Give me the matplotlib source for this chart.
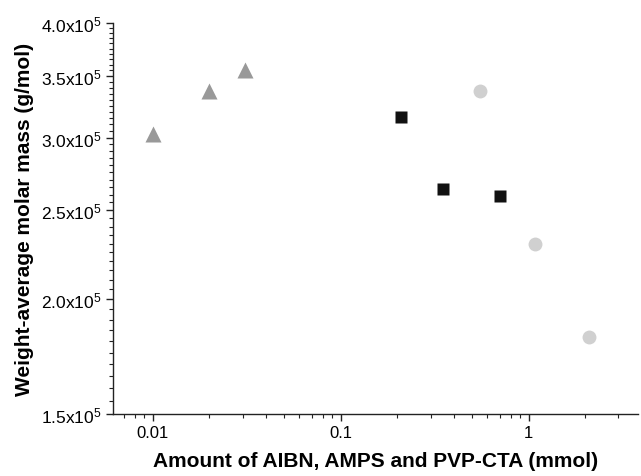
import numpy as np
import matplotlib
matplotlib.use("Agg")
import matplotlib.pyplot as plt
from matplotlib.ticker import FixedLocator, MultipleLocator, NullFormatter, LogLocator

plt.rcParams['font.family'] = 'Liberation Sans'
plt.rcParams['mathtext.fontset'] = 'custom'
plt.rcParams['mathtext.rm'] = 'Liberation Sans'
plt.rcParams['mathtext.it'] = 'Liberation Sans:italic'
plt.rcParams['mathtext.bf'] = 'Liberation Sans:bold'

# AIBN series (triangles)
aibn_x = [0.01, 0.02, 0.031]
aibn_mw = [3.03e5, 3.37e5, 3.55e5]

# AMPS series (squares)
amps_x = [0.21, 0.35, 0.70]
amps_mw = [3.16e5, 2.64e5, 2.59e5]

# PVP-CTA series (circles)
cta_x = [0.55, 1.08, 2.1]
cta_mw = [3.37e5, 2.30e5, 1.82e5]

yticks = [1.5e5, 2.0e5, 2.5e5, 3.0e5, 3.5e5, 4.0e5]
ytick_labels = [r'$1.5\mathrm{x}10^{5}$', r'$2.0\mathrm{x}10^{5}$', r'$2.5\mathrm{x}10^{5}$',
                r'$3.0\mathrm{x}10^{5}$', r'$3.5\mathrm{x}10^{5}$', r'$4.0\mathrm{x}10^{5}$']
xticks = [0.01, 0.1, 1]
xtick_labels = ['0.01', '0.1', '1']

fig = plt.figure(figsize=(6.41, 4.77), dpi=100)
ax = fig.add_axes([0.176, 0.130, 0.819, 0.820])

ax.plot(aibn_x, aibn_mw, linestyle='none', marker='^', ms=11.5, color='#999999', mec='none')
ax.plot(amps_x, amps_mw, linestyle='none', marker='s', ms=8.6, color='#111111', mec='none')
ax.plot(cta_x, cta_mw, linestyle='none', marker='o', ms=10, color='#d0d0d0', mec='none')

ax.set_xscale('log')
ax.set_yscale('log')
ax.set_xlim(0.00612, 3.8)
ax.set_ylim(1.5e5, 4.0e5)

ax.xaxis.set_major_locator(FixedLocator(xticks))
ax.set_xticklabels(xtick_labels)
ax.xaxis.set_minor_locator(LogLocator(base=10, subs=np.arange(2, 10)))
ax.xaxis.set_minor_formatter(NullFormatter())

ax.yaxis.set_major_locator(FixedLocator(yticks))
ax.set_yticklabels(ytick_labels)
ax.yaxis.set_minor_locator(MultipleLocator(5000))
ax.yaxis.set_minor_formatter(NullFormatter())

for s in ['top', 'right']:
    ax.spines[s].set_visible(False)
for s in ['left', 'bottom']:
    ax.spines[s].set_linewidth(1.0)
    ax.spines[s].set_color('#222222')

ax.tick_params(axis='x', which='major', direction='out', length=5, width=1.0,
               labelsize=12, color='#222222', pad=3)
ax.tick_params(axis='y', which='major', direction='out', length=5, width=1.0,
               labelsize=12.5, color='#222222', pad=3)
ax.tick_params(axis='both', which='minor', direction='out', length=3, width=0.8, color='#222222')

ax.set_xlabel('Amount of AIBN, AMPS and PVP-CTA (mmol)', fontsize=15, fontweight='bold', labelpad=8)
ax.set_ylabel('Weight-average molar mass (g/mol)', fontsize=15, fontweight='bold')
ax.yaxis.set_label_coords(-0.15, 0.5)

fig.savefig('out.png', dpi=100)
